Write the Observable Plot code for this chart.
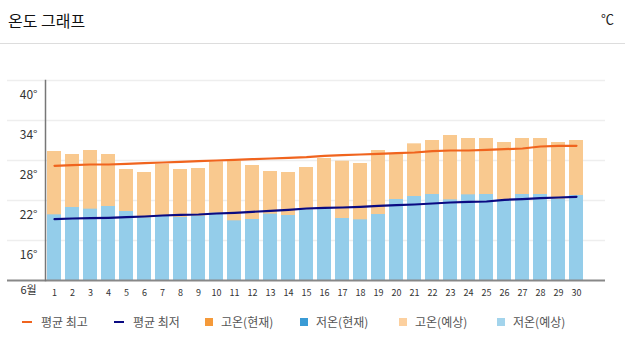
<!DOCTYPE html>
<html><head><meta charset="utf-8">
<script src="https://cdn.jsdelivr.net/npm/d3@7"></script>
<script src="https://cdn.jsdelivr.net/npm/@observablehq/plot@0.6"></script>
<style>
body{margin:0;background:#fff;font-family:"Noto Sans CJK KR","Noto Sans",sans-serif;width:625px;height:350px;overflow:hidden}
#head{position:relative;height:43px;border-bottom:1px solid #ddd}
#title{position:absolute;left:8px;top:9px;font-size:16px;line-height:22px;color:#111}
#unit{position:absolute;right:11px;top:10px;font-size:13px;line-height:18px;color:#222}
#chart{height:262px}
#legend{position:relative;height:40px}
.item{position:absolute;top:8px;height:16px;line-height:16px;font-size:12px;color:#555;display:flex;align-items:center;white-space:nowrap}
.mk{display:inline-block;margin-right:8px}
</style>
</head><body>
<div id="head"><div id="title">온도 그래프</div><div id="unit">℃</div></div>
<div id="chart"></div>
<div id="legend"></div>
<script>
const monthLabel = "6월";
const days = [1,2,3,4,5,6,7,8,9,10,11,12,13,14,15,16,17,18,19,20,21,22,23,24,25,26,27,28,29,30];
const highs = [29.35,28.9,29.5,28.9,26.65,26.2,27.45,26.65,26.8,27.8,27.9,27.25,26.35,26.2,26.95,28.3,27.9,27.55,29.5,28.9,30.5,31.0,31.75,31.3,31.3,30.7,31.3,31.3,30.7,31.0];
const lows = [19.85,20.95,20.7,21.1,20.35,19.4,19.75,19.45,19.65,20.1,18.95,19.15,19.95,19.75,20.6,20.75,19.3,19.1,19.9,22.15,22.6,22.9,22.1,22.85,22.9,22.1,22.9,22.9,22.2,22.75];
const avgMax = [27.2,27.3,27.4,27.4,27.5,27.6,27.7,27.8,27.9,28.0,28.1,28.2,28.3,28.4,28.5,28.7,28.8,28.9,29.0,29.1,29.2,29.4,29.5,29.5,29.6,29.7,29.8,30.1,30.2,30.2];
const avgMin = [19.2,19.3,19.35,19.4,19.5,19.6,19.75,19.85,19.9,20.05,20.15,20.3,20.45,20.6,20.8,20.9,20.95,21.05,21.2,21.3,21.4,21.55,21.7,21.8,21.85,22.1,22.2,22.35,22.45,22.55];
const yTicks = [16,22,28,34,40];
const yDomain = [10,40];
const legendLabels = ["평균 최고","평균 최저","고온(현재)","저온(현재)","고온(예상)","저온(예상)"];
const legendColors = ["#f0641e","#0a0a82","#f59a3a","#3a9bd5","#fcd09f","#a3d4ec"];
const legendKinds = ["line","line","box","box","box","box"];

const data = days.map((d,i)=>({day:d, high:highs[i], low:lows[i], amax:avgMax[i], amin:avgMin[i]}));

const chart = Plot.plot({
  width: 625, height: 262,
  marginTop: 36, marginBottom: 26, marginLeft: 45, marginRight: 20,
  style: {fontFamily: '"Noto Sans CJK KR","Noto Sans",sans-serif', fontSize: "11px", color: "#333", background: "transparent"},
  x: {type: "band", domain: days, paddingInner: 0.22, paddingOuter: 0.11, insetRight: 20},
  y: {domain: yDomain, clamp: true},
  marks: [
    Plot.ruleY(yTicks, {stroke: "#eee", strokeWidth: 1.5, insetLeft: -38}),
    Plot.barY(data, {x: "day", y: "high", fill: "#f9c98f"}),
    Plot.barY(data, {x: "day", y: "low", fill: "#94cdea"}),
    Plot.line(data, {x: "day", y: "amax", stroke: "#f0641e", strokeWidth: 2.2}),
    Plot.line(data, {x: "day", y: "amin", stroke: "#0a0a82", strokeWidth: 2.2}),
    Plot.ruleY([yDomain[0]], {stroke: "#888", strokeWidth: 2, insetLeft: -38}),
    Plot.frame({anchor: "left", stroke: "#777", strokeWidth: 1.5}),
    Plot.axisY({ticks: yTicks, tickSize: 0, tickPadding: 8, dy: 15, tickFormat: d => d + "°", fontSize: 12, label: null}),
    Plot.axisX({tickSize: 0, tickPadding: 9, fontSize: 9, label: null}),
    Plot.text([monthLabel], {text: d => d, frameAnchor: "bottom-left", dx: -25, dy: 13, fontSize: 11, fill: "#333"})
  ]
});
document.getElementById("chart").appendChild(chart);

const lefts = [22,114,205,300,399,497];
const lg = document.getElementById("legend");
legendLabels.forEach((lab,i)=>{
  const it = document.createElement("div");
  it.className = "item";
  it.style.left = lefts[i] + "px";
  const mk = document.createElement("span");
  mk.className = "mk";
  if (legendKinds[i] === "line") { mk.style.width = "10px"; mk.style.height = "2.5px"; mk.style.marginRight = "9px"; }
  else { mk.style.width = "8px"; mk.style.height = "8px"; }
  mk.style.background = legendColors[i];
  it.appendChild(mk);
  it.appendChild(document.createTextNode(lab));
  lg.appendChild(it);
});
</script>
</body></html>
